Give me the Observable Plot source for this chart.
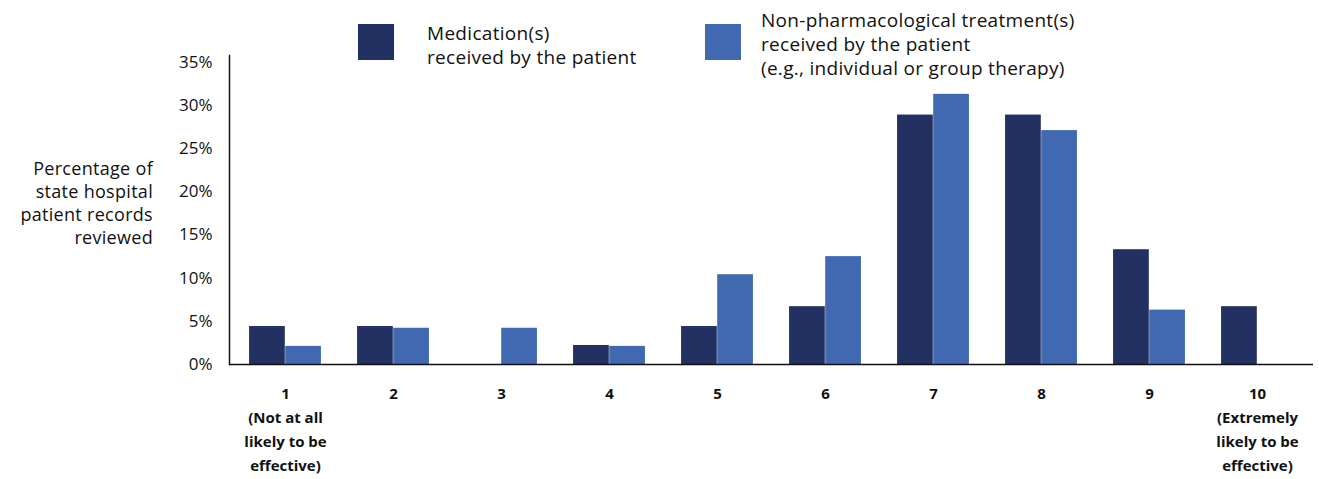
<!DOCTYPE html>
<html>
<head>
<meta charset="utf-8">
<script src="https://cdn.jsdelivr.net/npm/d3@7"></script>
<script src="https://cdn.jsdelivr.net/npm/@observablehq/plot@0.6"></script>
<style>
  html, body { margin: 0; padding: 0; background: #fff; }
  #wrap { position: relative; width: 1319px; height: 479px; font-family: "Open Sans", sans-serif; color: #111; }
  #wrap svg { position: absolute; left: 0; top: 0; }
  .sw { position: absolute; width: 36px; height: 36px; }
  .lt { position: absolute; font-size: 19px; line-height: 24px; letter-spacing: 0.3px; white-space: nowrap; }
  #ylab { position: absolute; right: calc(1319px - 153px); top: 157px; font-size: 18px; line-height: 23px; letter-spacing: 0.3px; text-align: right; white-space: nowrap; }
</style>
</head>
<body>
<div id="wrap"></div>
<script>
const categories = ["1","2","3","4","5","6","7","8","9","10"];
const tickLabels = ["1\n(Not at all\nlikely to be\neffective)","2","3","4","5","6","7","8","9","10\n(Extremely\nlikely to be\neffective)"];
const medication = [4.4, 4.4, 0, 2.2, 4.4, 6.7, 28.9, 28.9, 13.3, 6.7];
const nonPharm = [2.1, 4.2, 4.2, 2.1, 10.4, 12.5, 31.3, 27.1, 6.3, 0];
const seriesNames = ["Medication(s)\nreceived by the patient", "Non-pharmacological treatment(s)\nreceived by the patient\n(e.g., individual or group therapy)"];
const colors = ["#233062", "#4169b2"];
const yTicks = [0, 5, 10, 15, 20, 25, 30, 35];
const yLabel = "Percentage of\nstate hospital\npatient records\nreviewed";

const W = 1319, H = 479, ml = 229, mr = 6, mt = 55, mb = 115;
const step = (W - ml - mr) / categories.length;
const barW = step / 3;
const half = step / 2;

const medData = categories.map((c, i) => ({cat: c, v: medication[i]}));
const nonData = categories.map((c, i) => ({cat: c, v: nonPharm[i]}));

const chart = Plot.plot({
  width: W, height: H,
  marginLeft: ml, marginRight: mr, marginTop: mt, marginBottom: mb,
  style: {fontFamily: '"Open Sans", sans-serif', color: "#111", background: "transparent"},
  x: {domain: categories, padding: 0},
  y: {domain: [0, 35.8]},
  marks: [
    Plot.barY(medData.filter(d => d.v > 0), {x: "cat", y: "v", fill: colors[0], insetLeft: half - barW, insetRight: half}),
    Plot.barY(nonData.filter(d => d.v > 0), {x: "cat", y: "v", fill: colors[1], insetLeft: half, insetRight: half - barW}),
    Plot.frame({anchor: "left", stroke: "#111", strokeWidth: 1.5}),
    Plot.ruleY([0], {stroke: "#111", strokeWidth: 1.5}),
    Plot.axisY({ticks: yTicks, tickSize: 0, tickPadding: 17, fontSize: 17, tickFormat: d => d + "%", label: null}),
    Plot.axisX({tickSize: 0, tickPadding: 17, fontSize: 15, fontWeight: "bold", lineHeight: 1.6, tickFormat: d => tickLabels[categories.indexOf(d)], label: null})
  ]
});

const wrap = document.getElementById("wrap");
wrap.appendChild(chart);

const ylab = document.createElement("div");
ylab.id = "ylab";
ylab.innerHTML = yLabel.split("\n").join("<br>");
wrap.appendChild(ylab);

const legendPos = [
  {sx: 358, sy: 24, tx: 427, ty: 21},
  {sx: 705, sy: 24, tx: 761, ty: 8}
];
seriesNames.forEach((name, i) => {
  const p = legendPos[i];
  const sw = document.createElement("div");
  sw.className = "sw";
  sw.style.left = p.sx + "px"; sw.style.top = p.sy + "px"; sw.style.background = colors[i];
  wrap.appendChild(sw);
  const t = document.createElement("div");
  t.className = "lt";
  t.style.left = p.tx + "px"; t.style.top = p.ty + "px";
  t.innerHTML = name.split("\n").join("<br>");
  wrap.appendChild(t);
});
</script>
</body>
</html>
